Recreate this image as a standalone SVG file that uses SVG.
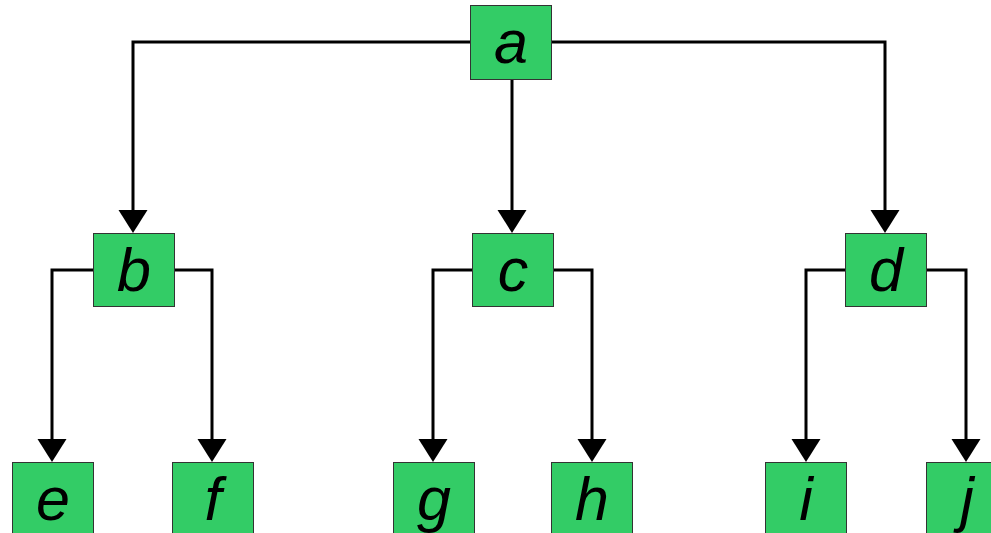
<svg xmlns="http://www.w3.org/2000/svg" width="991" height="533" viewBox="0 0 991 533">
  <defs>
    <style>
      .box { fill: #33CC66; stroke: #333333; stroke-width: 1; }
      .lbl { font-family: "Liberation Sans", Arial, sans-serif; font-style: italic; font-size: 61px; fill: #000000; text-anchor: middle; }
      .wire { fill: none; stroke: #000000; stroke-width: 3; stroke-linejoin: miter; }
    </style>
    <!-- filled arrowhead; tip sits 10px past the end of the line -->
    <marker id="arrow" markerUnits="userSpaceOnUse" markerWidth="24" markerHeight="30" viewBox="0 0 24 30" refX="13" refY="14.5" orient="auto">
      <path d="M0,0 L23,14.5 L0,29 z" fill="#000000"/>
    </marker>
  </defs>
  <rect width="991" height="533" fill="#ffffff"/>

  <g id="connectors">
    <!-- from a -->
    <path class="wire" d="M470,42 H133 V223" marker-end="url(#arrow)"/>
    <path class="wire" d="M512,79 V223" marker-end="url(#arrow)"/>
    <path class="wire" d="M551,42 H885 V223" marker-end="url(#arrow)"/>
    <!-- from b -->
    <path class="wire" d="M93,270 H52 V452" marker-end="url(#arrow)"/>
    <path class="wire" d="M174,270 H212 V452" marker-end="url(#arrow)"/>
    <!-- from c -->
    <path class="wire" d="M472,270 H433 V452" marker-end="url(#arrow)"/>
    <path class="wire" d="M553,270 H592 V452" marker-end="url(#arrow)"/>
    <!-- from d -->
    <path class="wire" d="M845,270 H806 V452" marker-end="url(#arrow)"/>
    <path class="wire" d="M926,270 H966 V452" marker-end="url(#arrow)"/>
  </g>

  <g id="node-a"><rect class="box" x="470.5" y="5.5" width="81" height="74"/><text class="lbl" x="511" y="63">a</text></g>
  <g id="node-b"><rect class="box" x="93.5" y="233.5" width="81" height="73"/><text class="lbl" x="134" y="291">b</text></g>
  <g id="node-c"><rect class="box" x="472.5" y="233.5" width="81" height="73"/><text class="lbl" x="513" y="291">c</text></g>
  <g id="node-d"><rect class="box" x="845.5" y="233.5" width="81" height="73"/><text class="lbl" x="886" y="291">d</text></g>
  <g id="node-e"><rect class="box" x="12.5" y="462.5" width="81" height="74"/><text class="lbl" x="53" y="520">e</text></g>
  <g id="node-f"><rect class="box" x="172.5" y="462.5" width="81" height="74"/><text class="lbl" x="213" y="520">f</text></g>
  <g id="node-g"><rect class="box" x="393.5" y="462.5" width="81" height="74"/><text class="lbl" x="434" y="520">g</text></g>
  <g id="node-h"><rect class="box" x="551.5" y="462.5" width="81" height="74"/><text class="lbl" x="592" y="520">h</text></g>
  <g id="node-i"><rect class="box" x="765.5" y="462.5" width="81" height="74"/><text class="lbl" x="806" y="520">i</text></g>
  <g id="node-j"><rect class="box" x="926.5" y="462.5" width="81" height="74"/><text class="lbl" x="967" y="520">j</text></g>
</svg>
